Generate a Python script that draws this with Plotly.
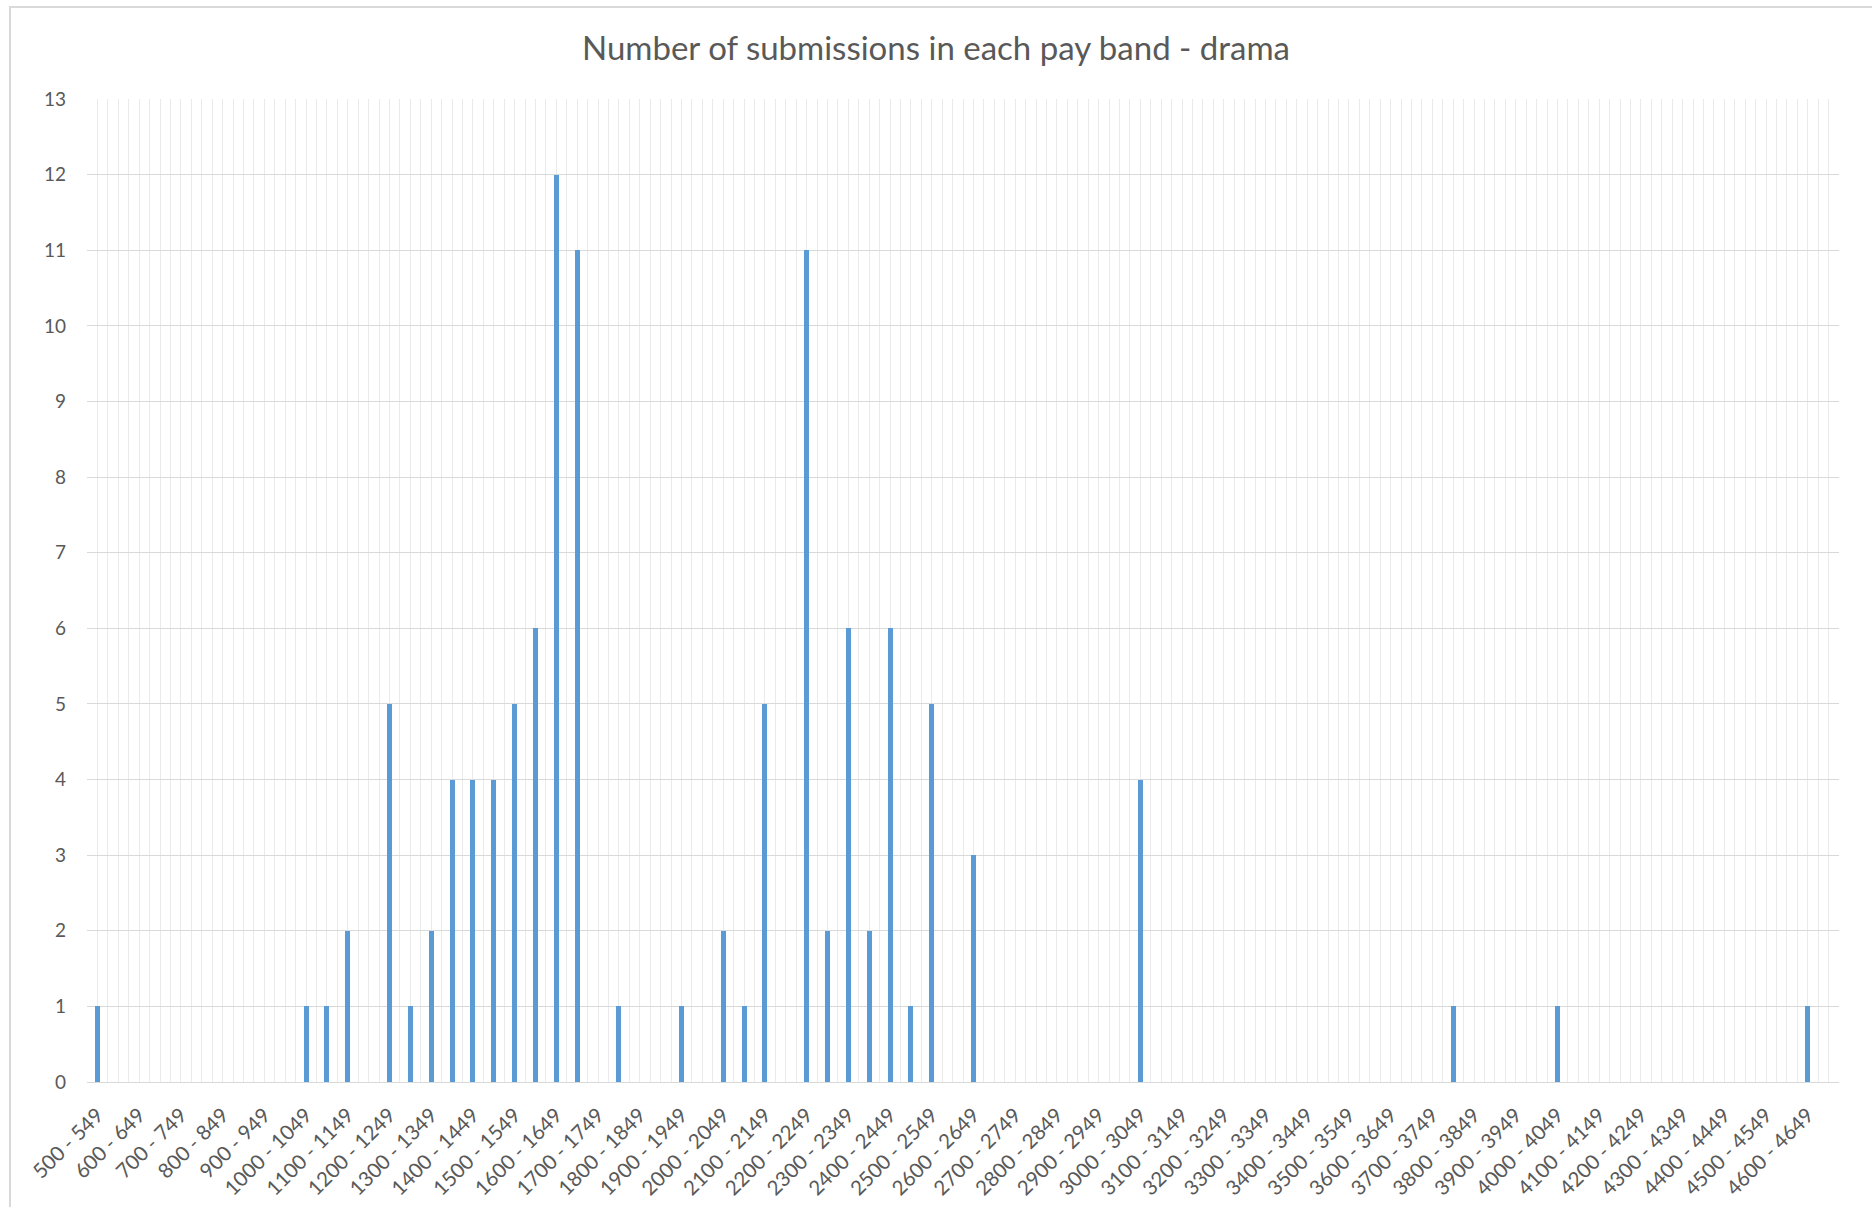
import plotly.graph_objects as go

# Pay bands of 50, from 500 - 549 up to 4650 - 4699
band_starts = list(range(500, 4700, 50))
bands = [f"{s} - {s + 49}" for s in band_starts]

# Number of drama submissions falling in each pay band
counts = [
    1, 0, 0, 0, 0, 0, 0, 0, 0, 0,      # 500 .. 949
    1, 1, 2, 0, 5, 1, 2, 4, 4, 4,      # 1000 .. 1499
    5, 6, 12, 11, 0, 1, 0, 0, 1, 0,    # 1500 .. 1999
    2, 1, 5, 0, 11, 2, 6, 2, 6, 1,     # 2000 .. 2499
    5, 0, 3, 0, 0, 0, 0, 0, 0, 0,      # 2500 .. 2999
    4, 0, 0, 0, 0, 0, 0, 0, 0, 0,      # 3000 .. 3499
    0, 0, 0, 0, 0, 1, 0, 0, 0, 0,      # 3500 .. 3999
    1, 0, 0, 0, 0, 0, 0, 0, 0, 0,      # 4000 .. 4499
    0, 0, 1, 0,                        # 4500 .. 4699
]

# Only every other band is labelled on the axis
label_positions = list(range(0, len(bands), 2))
label_text = [bands[i] for i in label_positions]

title_text = "Number of submissions in each pay band - drama"

FONT = "Lato, 'Open Sans', sans-serif"
TEXT_GREY = "#595959"
BAR_BLUE = "#5B9BD5"

W, H = 1872, 1207
L, R, T, B = 87, 33, 99, 125
plot_w = W - L - R
plot_h = H - T - B

fig = go.Figure(
    go.Bar(
        x=list(range(len(bands))),
        y=counts,
        width=0.24,
        marker=dict(color=BAR_BLUE, line=dict(width=0)),
        customdata=bands,
        hovertemplate="%{customdata}: %{y}<extra></extra>",
    )
)

fig.update_layout(
    width=W,
    height=H,
    margin=dict(l=L, r=R, t=T, b=B),
    paper_bgcolor="white",
    plot_bgcolor="white",
    showlegend=False,
    font=dict(family=FONT, color=TEXT_GREY),
    title=dict(
        text=title_text,
        x=0.5,
        xref="container",
        xanchor="center",
        y=1 - 48 / H,
        yref="container",
        yanchor="middle",
        font=dict(family=FONT, size=33, color=TEXT_GREY),
    ),
    xaxis=dict(
        range=[-0.5, len(bands) - 0.5],
        tickmode="array",
        tickvals=label_positions,
        ticktext=label_text,
        tickangle=-45,
        ticks="",
        ticklabelstandoff=12,
        tickfont=dict(family=FONT, size=20.5, color=TEXT_GREY),
        showgrid=True,
        gridcolor="#EAEAEA",
        gridwidth=1,
        minor=dict(tickmode="linear", tick0=-0.5, dtick=0.5,
                   showgrid=True, gridcolor="#EAEAEA", gridwidth=1, ticks=""),
        showline=True,
        linecolor="#D9D9D9",
        linewidth=1,
        zeroline=False,
        automargin=False,
        fixedrange=True,
    ),
    yaxis=dict(
        range=[0, 13],
        tickmode="linear",
        tick0=0,
        dtick=1,
        ticks="",
        ticklabelstandoff=20,
        tickfont=dict(family=FONT, size=19, color=TEXT_GREY),
        showgrid=True,
        gridcolor="#D9D9D9",
        gridwidth=1,
        zeroline=False,
        showline=False,
        automargin=False,
        fixedrange=True,
    ),
    bargap=0,
)

# Light frame around the whole chart area
fig.add_shape(
    type="rect",
    xref="paper", yref="paper",
    x0=(10 - L) / plot_w, x1=(W + 10 - L) / plot_w,
    y0=(T + plot_h - (H + 10)) / plot_h, y1=(T + plot_h - 7) / plot_h,
    line=dict(color="#D9D9D9", width=2),
    fillcolor="rgba(0,0,0,0)",
    layer="below",
)

fig.write_html("out.html")
